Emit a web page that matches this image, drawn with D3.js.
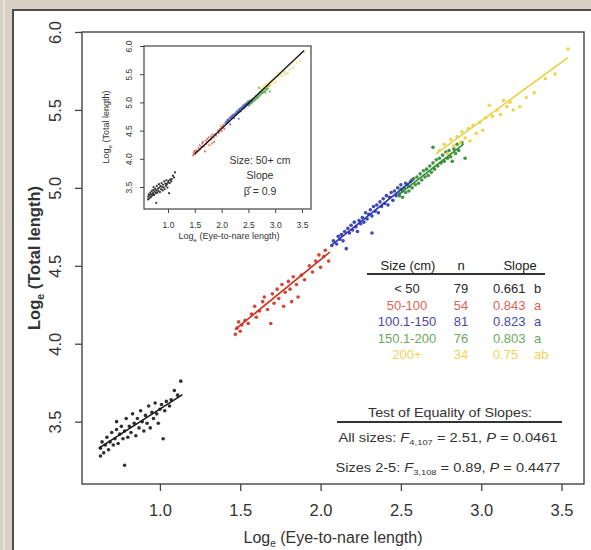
<!DOCTYPE html>
<html>
<head>
<meta charset="utf-8">
<script src="https://cdn.jsdelivr.net/npm/d3@7"></script>
<style>
  body { margin: 0; background: #fff; }
  svg { display: block; font-family: "Liberation Sans", Arial, Helvetica, sans-serif; }
</style>
</head>
<body>
<svg id="chart" width="591" height="550"></svg>
<script>
// Size classes and their fitted slopes
const sizeClasses = ["< 50", "50-100", "100.1-150", "150.1-200", "200+"];
const sampleSizes = [79, 54, 81, 76, 34];
const slopeValues = [0.661, 0.843, 0.823, 0.803, 0.75];
const slopeLabels = ["0.661", "0.843", "0.823", "0.803", "0.75"];
const slopeGroups = ["b", "a", "a", "a", "ab"];

// Fitted line extent per class: [x start, x end, y at start]
const fitExtents = [
  [0.62, 1.14, 3.33],
  [1.467, 2.058, 4.09],
  [2.07, 2.57, 4.635],
  [2.49, 2.89, 4.96],
  [2.72, 3.54, 5.22]
];

// Pooled 50+ cm fit shown in the inset
const pooledSlope = 0.9;
const pooledExtent = [1.5, 3.54, 4.085];

// ln(eye-to-nare length), ln(total length)
const ptsUnder50 = [
  [0.63,3.28],[0.63,3.33],[0.64,3.37],[0.65,3.30],[0.66,3.35],[0.67,3.40],[0.68,3.32],[0.69,3.37],
  [0.70,3.43],[0.71,3.35],[0.72,3.39],[0.73,3.50],[0.73,3.45],[0.74,3.36],[0.75,3.42],[0.76,3.47],
  [0.77,3.39],[0.78,3.22],[0.78,3.44],[0.79,3.52],[0.80,3.40],[0.81,3.47],[0.82,3.43],[0.83,3.55],
  [0.84,3.49],[0.85,3.41],[0.86,3.52],[0.87,3.46],[0.88,3.57],[0.89,3.50],[0.90,3.44],[0.91,3.54],
  [0.92,3.49],[0.93,3.60],[0.94,3.46],[0.95,3.56],[0.96,3.52],[0.97,3.62],[0.98,3.55],[0.99,3.49],
  [1.00,3.58],[1.01,3.61],[1.02,3.39],[1.03,3.57],[1.04,3.63],[1.06,3.60],[1.07,3.64],[1.09,3.70],
  [1.11,3.67],[1.13,3.76]
];
const pts50to100 = [
  [1.47,4.06],[1.48,4.10],[1.49,4.14],[1.50,4.08],[1.51,4.12],[1.53,4.15],[1.55,4.13],[1.57,4.19],
  [1.59,4.24],[1.60,4.17],[1.62,4.21],[1.64,4.27],[1.65,4.30],[1.67,4.22],[1.69,4.13],[1.70,4.32],
  [1.71,4.26],[1.73,4.35],[1.74,4.29],[1.76,4.38],[1.77,4.24],[1.78,4.33],[1.80,4.40],[1.81,4.35],
  [1.82,4.27],[1.83,4.43],[1.85,4.38],[1.86,4.30],[1.88,4.44],[1.90,4.41],[1.93,4.50],[1.95,4.46],
  [1.97,4.53],[1.99,4.57],[2.00,4.49],[2.02,4.56],[2.03,4.60],[2.05,4.53]
];
const pts100to150 = [
  [2.07,4.63],[2.08,4.66],[2.10,4.64],[2.11,4.69],[2.12,4.67],[2.13,4.70],[2.14,4.66],[2.15,4.72],
  [2.16,4.61],[2.17,4.74],[2.18,4.71],[2.19,4.76],[2.20,4.73],[2.21,4.78],[2.22,4.75],[2.23,4.72],
  [2.24,4.79],[2.25,4.77],[2.26,4.81],[2.27,4.78],[2.28,4.84],[2.29,4.80],[2.30,4.83],[2.31,4.86],
  [2.32,4.71],[2.32,4.82],[2.33,4.88],[2.34,4.85],[2.35,4.89],[2.36,4.84],[2.37,4.91],[2.38,4.88],
  [2.39,4.93],[2.40,4.90],[2.41,4.95],[2.42,4.89],[2.43,4.94],[2.44,4.97],[2.45,4.92],[2.46,4.98],
  [2.47,4.95],[2.48,5.00],[2.49,4.96],[2.50,5.02],[2.51,4.98],[2.53,5.03],[2.55,5.01],[2.57,5.05]
];
const pts150to200 = [
  [2.49,4.95],[2.50,4.99],[2.51,4.94],[2.52,5.00],[2.53,4.97],[2.54,5.02],[2.55,4.98],[2.56,5.04],
  [2.57,5.00],[2.58,5.06],[2.59,5.02],[2.60,5.07],[2.61,5.03],[2.62,5.09],[2.63,5.05],[2.64,5.11],
  [2.65,5.07],[2.66,5.12],[2.67,5.08],[2.68,5.14],[2.69,5.10],[2.70,5.16],[2.70,5.26],[2.71,5.12],
  [2.72,5.18],[2.73,5.14],[2.74,5.19],[2.75,5.16],[2.76,5.21],[2.77,5.17],[2.78,5.23],[2.79,5.19],
  [2.80,5.24],[2.81,5.20],[2.82,5.17],[2.83,5.25],[2.84,5.22],[2.85,5.28],[2.86,5.24],[2.88,5.29],
  [2.90,5.19]
];
const ptsOver200 = [
  [2.74,5.24],[2.77,5.28],[2.79,5.22],[2.81,5.31],[2.83,5.27],[2.85,5.33],[2.87,5.29],[2.88,5.36],
  [2.90,5.32],[2.92,5.38],[2.93,5.30],[2.95,5.40],[2.97,5.35],[2.99,5.42],[3.01,5.37],[3.03,5.45],
  [3.05,5.53],[3.07,5.46],[3.10,5.50],[3.12,5.47],[3.14,5.56],[3.16,5.52],[3.18,5.55],[3.20,5.50],
  [3.24,5.52],[3.28,5.58],[3.33,5.61],[3.40,5.70],[3.46,5.73],[3.54,5.89]
];

const xTicks = [1.0, 1.5, 2.0, 2.5, 3.0, 3.5];
const yTicks = [3.5, 4.0, 4.5, 5.0, 5.5, 6.0];

const groupPoints = [ptsUnder50, pts50to100, pts100to150, pts150to200, ptsOver200];
const markColors = ["#1a1a1a", "#d0301f", "#2a34b0", "#2e8a2e", "#ead23e"];
const textColors = ["#2a2a2a", "#e0645a", "#4a48a8", "#6aaa5c", "#f2d456"];
const fmt = d3.format(".1f");

const svg = d3.select("#chart");

// Window frame
svg.append("rect").attr("width", 591).attr("height", 550).attr("fill", "#dad1c6");
svg.append("rect").attr("x", 3).attr("y", 0).attr("width", 2).attr("height", 550).attr("fill", "#ebe5de");
svg.append("rect").attr("x", 14).attr("y", 11).attr("width", 577).attr("height", 539).attr("fill", "#ffffff");
svg.append("line").attr("x1", 13).attr("x2", 13).attr("y1", 9.5).attr("y2", 550)
  .attr("stroke", "#4d4d4d").attr("stroke-width", 2);
svg.append("line").attr("x1", 12).attr("x2", 591).attr("y1", 10).attr("y2", 10)
  .attr("stroke", "#4d4d4d").attr("stroke-width", 2);

// ---------- main panel ----------
const x = d3.scaleLinear().domain([0.515, 3.64]).range([82, 584]);
const y = d3.scaleLinear().domain([3.1, 6.0]).range([484, 32]);

const main = svg.append("g");

groupPoints.forEach((pts, i) => {
  main.append("g").selectAll("circle").data(pts).join("circle")
    .attr("cx", d => x(d[0])).attr("cy", d => y(d[1])).attr("r", 1.8)
    .attr("fill", markColors[i]).attr("fill-opacity", 0.9);
});

fitExtents.forEach((e, i) => {
  const y1 = e[2] + slopeValues[i] * (e[1] - e[0]);
  main.append("line")
    .attr("x1", x(e[0])).attr("y1", y(e[2])).attr("x2", x(e[1])).attr("y2", y(y1))
    .attr("stroke", markColors[i]).attr("stroke-width", 1.6);
});

main.append("rect").attr("x", 82).attr("y", 32).attr("width", 502).attr("height", 452)
  .attr("fill", "none").attr("stroke", "#444").attr("stroke-width", 1.4);

const xAxis = main.append("g").attr("transform", "translate(0,484)")
  .call(d3.axisBottom(x).tickValues(xTicks).tickFormat(fmt).tickSize(7).tickPadding(4));
xAxis.select(".domain").remove();
xAxis.selectAll("line").attr("stroke", "#444").attr("stroke-width", 1.3);
xAxis.selectAll("text").attr("font-size", 16.5).attr("fill", "#333").attr("font-family", null)
  .attr("dy", null).attr("y", 32);

const yAxis = main.append("g").attr("transform", "translate(82,0)")
  .call(d3.axisLeft(y).tickValues(yTicks).tickFormat(fmt).tickSize(7));
yAxis.select(".domain").remove();
yAxis.selectAll("line").attr("stroke", "#444").attr("stroke-width", 1.3);
yAxis.selectAll("text").attr("font-size", 16.5).attr("fill", "#333").attr("font-family", null)
  .attr("transform", "rotate(-90)").attr("x", 0).attr("y", -21).attr("dy", null)
  .attr("text-anchor", "middle");

const xTitle = main.append("text").attr("x", 333).attr("y", 543).attr("text-anchor", "middle")
  .attr("font-size", 16).attr("fill", "#333");
xTitle.append("tspan").text("Log");
xTitle.append("tspan").attr("font-size", 10).attr("dy", 4).text("e");
xTitle.append("tspan").attr("dy", -4).text(" (Eye-to-nare length)");

const yTitle = main.append("text").attr("transform", "translate(40,258) rotate(-90)")
  .attr("text-anchor", "middle").attr("font-size", 16.5).attr("font-weight", "bold").attr("fill", "#333");
yTitle.append("tspan").text("Log");
yTitle.append("tspan").attr("font-size", 10.5).attr("dy", 4).text("e");
yTitle.append("tspan").attr("dy", -4).text(" (Total length)");

// ---------- slope table ----------
const table = svg.append("g").attr("font-size", 13);
table.append("text").attr("x", 408).attr("y", 270).attr("text-anchor", "middle").attr("fill", "#222").text("Size (cm)");
table.append("text").attr("x", 461).attr("y", 270).attr("text-anchor", "middle").attr("fill", "#222").text("n");
table.append("text").attr("x", 520).attr("y", 270).attr("text-anchor", "middle").attr("fill", "#222").text("Slope");
table.append("line").attr("x1", 367).attr("x2", 545).attr("y1", 274).attr("y2", 274)
  .attr("stroke", "#333").attr("stroke-width", 2);

sizeClasses.forEach((s, i) => {
  const by = 293 + i * 16.5;
  table.append("text").attr("x", 407).attr("y", by).attr("text-anchor", "middle").attr("fill", textColors[i]).text(s);
  table.append("text").attr("x", 461).attr("y", by).attr("text-anchor", "middle").attr("fill", textColors[i]).text(sampleSizes[i]);
  table.append("text").attr("x", 493).attr("y", by).attr("fill", textColors[i]).text(slopeLabels[i]);
  table.append("text").attr("x", 534).attr("y", by).attr("fill", textColors[i]).text(slopeGroups[i]);
});

// ---------- test of equality of slopes ----------
const test = svg.append("g").attr("fill", "#333");
test.append("text").attr("x", 450).attr("y", 417).attr("text-anchor", "middle").attr("font-size", 13)
  .attr("textLength", 164).attr("lengthAdjust", "spacingAndGlyphs").text("Test of Equality of Slopes:");
test.append("line").attr("x1", 337).attr("x2", 562).attr("y1", 422).attr("y2", 422)
  .attr("stroke", "#333").attr("stroke-width", 2.2);

function statLine(yb, len, lead, sub, fval, pval) {
  const t = test.append("text").attr("x", 448).attr("y", yb).attr("text-anchor", "middle")
    .attr("font-size", 12.5).attr("textLength", len).attr("lengthAdjust", "spacingAndGlyphs");
  t.append("tspan").text(lead + " ");
  t.append("tspan").attr("font-style", "italic").text("F");
  t.append("tspan").attr("font-size", 8).attr("dy", 3).text(sub);
  t.append("tspan").attr("dy", -3).text(" = " + fval + ",  ");
  t.append("tspan").attr("font-style", "italic").text("P");
  t.append("tspan").text(" = " + pval);
}
statLine(442, 219, "All sizes:", "4,107", "2.51", "0.0461");
statLine(472, 225, "Sizes 2-5:", "3,108", "0.89", "0.4477");

// ---------- inset: 50+ cm pooled ----------
const xi = d3.scaleLinear().domain([0.552, 3.668]).range([144, 311]);
const yi = d3.scaleLinear().domain([3.11, 6.0]).range([209, 46]);
const inset = svg.append("g");
inset.append("rect").attr("x", 144).attr("y", 46).attr("width", 167).attr("height", 163).attr("fill", "#fff");

groupPoints.forEach((pts, i) => {
  inset.append("g").selectAll("circle").data(pts).join("circle")
    .attr("cx", d => xi(d[0])).attr("cy", d => yi(d[1])).attr("r", 1.1)
    .attr("fill", markColors[i]).attr("fill-opacity", i === 0 ? 0.9 : 0.65);
});

inset.append("line")
  .attr("x1", xi(pooledExtent[0])).attr("y1", yi(pooledExtent[2]))
  .attr("x2", xi(pooledExtent[1])).attr("y2", yi(pooledExtent[2] + pooledSlope * (pooledExtent[1] - pooledExtent[0])))
  .attr("stroke", "#111").attr("stroke-width", 1.3);

inset.append("rect").attr("x", 144).attr("y", 46).attr("width", 167).attr("height", 163)
  .attr("fill", "none").attr("stroke", "#444").attr("stroke-width", 1.2);

const xiAxis = inset.append("g").attr("transform", "translate(0,209)")
  .call(d3.axisBottom(xi).tickValues(xTicks).tickFormat(fmt).tickSize(4).tickPadding(3));
xiAxis.select(".domain").remove();
xiAxis.selectAll("line").attr("stroke", "#444");
xiAxis.selectAll("text").attr("font-size", 8.5).attr("fill", "#333").attr("font-family", null)
  .attr("dy", null).attr("y", 19);

const yiAxis = inset.append("g").attr("transform", "translate(144,0)")
  .call(d3.axisLeft(yi).tickValues(yTicks).tickFormat(fmt).tickSize(4));
yiAxis.select(".domain").remove();
yiAxis.selectAll("line").attr("stroke", "#444");
yiAxis.selectAll("text").attr("font-size", 8.5).attr("fill", "#333").attr("font-family", null)
  .attr("transform", "rotate(-90)").attr("x", 0).attr("y", -12).attr("dy", null)
  .attr("text-anchor", "middle");

const xiTitle = inset.append("text").attr("x", 229).attr("y", 239).attr("text-anchor", "middle")
  .attr("font-size", 9).attr("fill", "#333");
xiTitle.append("tspan").text("Log");
xiTitle.append("tspan").attr("font-size", 6).attr("dy", 2.5).text("e");
xiTitle.append("tspan").attr("dy", -2.5).text(" (Eye-to-nare length)");

const yiTitle = inset.append("text").attr("transform", "translate(109,127) rotate(-90)")
  .attr("text-anchor", "middle").attr("font-size", 9).attr("fill", "#333");
yiTitle.append("tspan").text("Log");
yiTitle.append("tspan").attr("font-size", 6).attr("dy", 2.5).text("e");
yiTitle.append("tspan").attr("dy", -2.5).text(" (Total length)");

const note = inset.append("g").attr("font-size", 10.5).attr("fill", "#333").attr("text-anchor", "middle");
note.append("text").attr("x", 260).attr("y", 164).text("Size: 50+ cm");
note.append("text").attr("x", 260).attr("y", 179).text("Slope");
note.append("text").attr("x", 260).attr("y", 195).text("\u03B2\u0302 = " + pooledSlope);
</script>
</body>
</html>
